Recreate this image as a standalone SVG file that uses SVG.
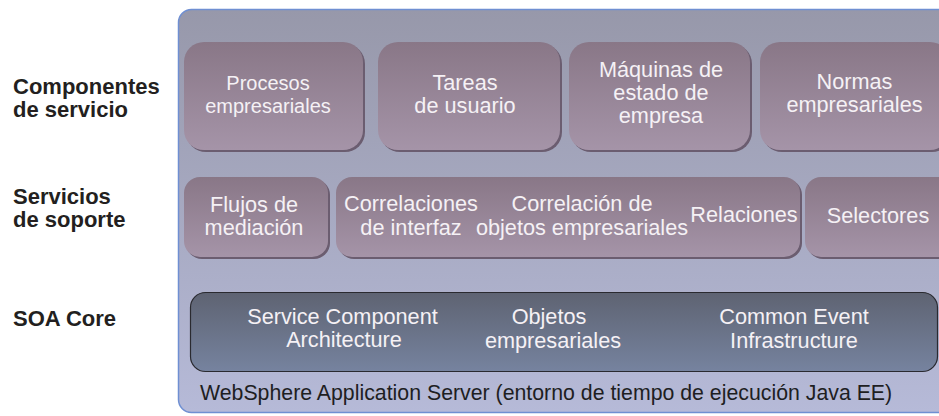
<svg xmlns="http://www.w3.org/2000/svg" width="939" height="416" viewBox="0 0 939 416">
<defs>
<linearGradient id="gOuter" x1="0" y1="0" x2="0" y2="1">
<stop offset="0" stop-color="#9798aa"/>
<stop offset="1" stop-color="#b6bad8"/>
</linearGradient>
<linearGradient id="gBox" x1="0" y1="0" x2="0" y2="1">
<stop offset="0" stop-color="#897787"/>
<stop offset="1" stop-color="#a594a8"/>
</linearGradient>
<linearGradient id="gCore" x1="0" y1="0" x2="0" y2="1">
<stop offset="0" stop-color="#5e6372"/>
<stop offset="1" stop-color="#76839f"/>
</linearGradient>
</defs>
<style>
.lbl{font-family:"Liberation Sans",Arial,sans-serif;font-weight:bold;font-size:22px;fill:#231f20}
.t{font-family:"Liberation Sans",Arial,sans-serif;font-size:21.7px;fill:#f5f1f5}
.s{font-size:20px}
.c{text-anchor:middle}
.box{fill:url(#gBox)}
.sh{fill:#6b5d70}
.core{fill:url(#gCore);stroke:#2a2a30;stroke-width:1.2}
.ws{font-family:"Liberation Sans",Arial,sans-serif;font-size:21.3px;fill:#1e1e22}
</style>
<g id="labels">
<text class="lbl" x="13" y="94">Componentes</text>
<text class="lbl" x="13" y="117">de servicio</text>
<text class="lbl" x="13" y="204">Servicios</text>
<text class="lbl" x="13" y="227">de soporte</text>
<text class="lbl" x="13" y="326">SOA Core</text>
</g>
<g id="was">
<rect x="178.5" y="9.5" width="780" height="403" rx="13" fill="url(#gOuter)" stroke="#6f8fd2" stroke-width="1.5"/>
<text class="ws" x="200" y="400">WebSphere Application Server (entorno de tiempo de ejecución Java EE)</text>
</g>
<g id="procesos">
<rect class="sh" x="186" y="44" width="179" height="108" rx="20"/>
<rect class="box" x="184" y="42" width="179" height="108" rx="20"/>
<text class="t s c" x="268" y="90">Procesos</text>
<text class="t s c" x="268" y="113">empresariales</text>
</g>
<g id="tareas">
<rect class="sh" x="380" y="44" width="182" height="108" rx="20"/>
<rect class="box" x="378" y="42" width="182" height="108" rx="20"/>
<text class="t c" x="465" y="90">Tareas</text>
<text class="t c" x="465" y="113">de usuario</text>
</g>
<g id="maquinas">
<rect class="sh" x="571" y="44" width="181" height="108" rx="20"/>
<rect class="box" x="569" y="42" width="181" height="108" rx="20"/>
<text class="t c" x="661" y="77">Máquinas de</text>
<text class="t c" x="661" y="100">estado de</text>
<text class="t c" x="661" y="123">empresa</text>
</g>
<g id="normas">
<rect class="sh" x="762" y="44" width="190" height="108" rx="20"/>
<rect class="box" x="760" y="42" width="190" height="108" rx="20"/>
<text class="t c" x="854.5" y="89">Normas</text>
<text class="t c" x="854.5" y="112">empresariales</text>
</g>
<g id="flujos">
<rect class="sh" x="186" y="179" width="144" height="80" rx="16"/>
<rect class="box" x="184" y="177" width="144" height="80" rx="16"/>
<text class="t c" x="254" y="212">Flujos de</text>
<text class="t c" x="254" y="235">mediación</text>
</g>
<g id="correlaciones">
<rect class="sh" x="338" y="179" width="464" height="80" rx="16"/>
<rect class="box" x="336" y="177" width="464" height="80" rx="16"/>
<text class="t c" x="411" y="211">Correlaciones</text>
<text class="t c" x="411" y="235">de interfaz</text>
<text class="t c" x="582" y="211">Correlación de</text>
<text class="t c" x="582" y="235">objetos empresariales</text>
<text class="t c" x="744" y="222">Relaciones</text>
</g>
<g id="selectores">
<rect class="sh" x="807" y="179" width="150" height="80" rx="16"/>
<rect class="box" x="805" y="177" width="150" height="80" rx="16"/>
<text class="t c" x="878" y="223">Selectores</text>
</g>
<g id="soacore">
<rect class="core" x="190.5" y="292.5" width="747" height="79" rx="15"/>
<text class="t c" x="342.5" y="324">Service Component</text>
<text class="t c" x="344" y="347">Architecture</text>
<text class="t c" x="549" y="324">Objetos</text>
<text class="t c" x="553" y="348">empresariales</text>
<text class="t c" x="794" y="324">Common Event</text>
<text class="t c" x="794" y="348">Infrastructure</text>
</g>
<g id="connectors"/>
</svg>
